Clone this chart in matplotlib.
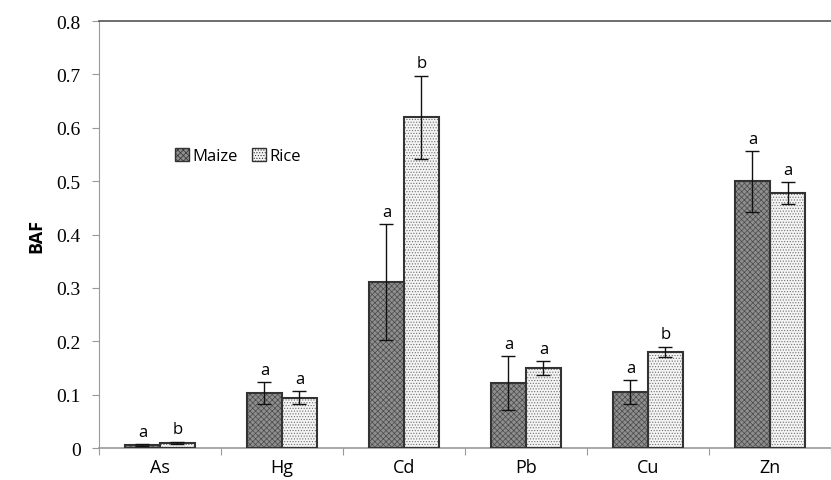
import matplotlib
matplotlib.use("Agg")
import matplotlib.pyplot as plt
import numpy as np
from matplotlib.patches import Patch

metals = ["As", "Hg", "Cd", "Pb", "Cu", "Zn"]
maize = [0.005, 0.103, 0.311, 0.122, 0.105, 0.500]
maize_err = [0.002, 0.021, 0.108, 0.050, 0.023, 0.057]
rice = [0.010, 0.094, 0.620, 0.150, 0.180, 0.478]
rice_err = [0.002, 0.012, 0.078, 0.013, 0.010, 0.020]
maize_letters = ["a", "a", "a", "a", "a", "a"]
rice_letters = ["b", "a", "b", "a", "b", "a"]

plt.rcParams["hatch.linewidth"] = 0.5

fig = plt.figure(figsize=(8.31, 4.81), dpi=100)
ax = fig.add_axes([0.119, 0.0665, 0.881, 0.8875])

x = np.arange(len(metals))
w = 0.287

# fill with hatch first, outline on top
ax.bar(x - w / 2, maize, w, color="#8e8e8e", hatch="xxxxxx", edgecolor="#4a4a4a", linewidth=0, zorder=2)
ax.bar(x + w / 2, rice, w, color="#f4f4f4", hatch="......", edgecolor="#707070", linewidth=0, zorder=2)
ax.bar(x - w / 2, maize, w, fill=False, edgecolor="#333333", linewidth=1.5, zorder=3)
ax.bar(x + w / 2, rice, w, fill=False, edgecolor="#333333", linewidth=1.5, zorder=3)

ax.errorbar(x - w / 2, maize, yerr=maize_err, fmt="none", ecolor="#111111",
            elinewidth=1.0, capsize=5, capthick=1.0, zorder=4)
ax.errorbar(x + w / 2, rice, yerr=rice_err, fmt="none", ecolor="#111111",
            elinewidth=1.0, capsize=5, capthick=1.0, zorder=4)

for i in range(len(metals)):
    ax.annotate(maize_letters[i], (x[i] - w / 2, maize[i] + maize_err[i]),
                xytext=(0, 3), textcoords="offset points", ha="center", va="bottom",
                fontsize=12, family="Open Sans")
    ax.annotate(rice_letters[i], (x[i] + w / 2, rice[i] + rice_err[i]),
                xytext=(0, 3), textcoords="offset points", ha="center", va="bottom",
                fontsize=12, family="Open Sans")

ax.set_xlim(-0.5, len(metals) - 0.5)
ax.set_ylim(0, 0.8)
ax.set_yticks(np.arange(0, 0.81, 0.1))
ax.set_yticklabels(["0"] + [f"{v:.1f}" for v in np.arange(0.1, 0.81, 0.1)],
                   family="Liberation Serif", fontsize=14)
ax.tick_params(axis="y", direction="out", length=5, color="#999999", pad=8)

ax.set_xticks(np.arange(-0.5, len(metals), 1.0))
ax.set_xticklabels([])
ax.tick_params(axis="x", which="major", direction="out", length=5, color="#999999")
ax.set_xticks(x, minor=True)
ax.set_xticklabels(metals, minor=True, family="Open Sans", fontsize=13)
ax.tick_params(axis="x", which="minor", length=0, pad=7)

ax.spines["right"].set_visible(False)
ax.spines["left"].set_color("#999999")
ax.spines["bottom"].set_color("#999999")
ax.spines["bottom"].set_linewidth(1.2)
ax.spines["top"].set_color("#555555")
ax.spines["top"].set_linewidth(1.2)

ax.set_ylabel("BAF", fontsize=13, fontweight="bold", family="Open Sans", labelpad=8)

handles = [Patch(facecolor="#8e8e8e", hatch="xxxxxx", edgecolor="#333333"),
           Patch(facecolor="#f4f4f4", hatch="......", edgecolor="#333333")]
ax.legend(handles, ["Maize", "Rice"], loc="center", bbox_to_anchor=(0.19, 0.684),
          ncol=2, frameon=False, handlelength=0.8, handleheight=0.8,
          handletextpad=0.2, columnspacing=0.9, prop={"family": "Open Sans", "size": 12})

fig.savefig("out.png", dpi=100)
